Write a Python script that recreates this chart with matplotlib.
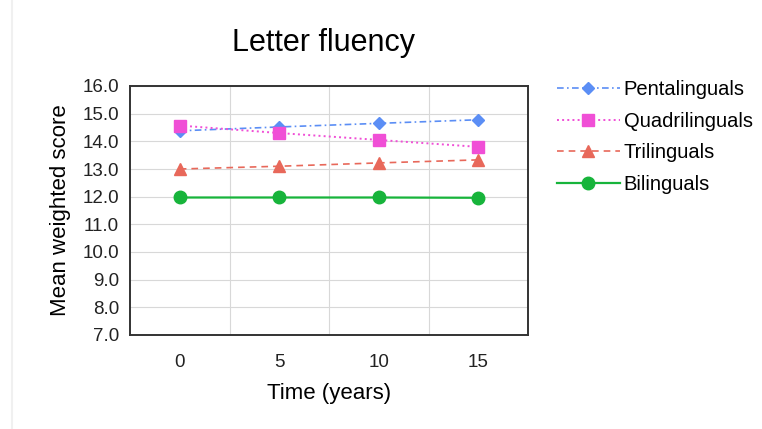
import numpy as np
import matplotlib.pyplot as plt
from matplotlib.lines import Line2D

# ── Data ────────────────────────────────────────────────────
years = ["0", "5", "10", "15"]
penta = [14.38, 14.52, 14.65, 14.78]
quadri = [14.57, 14.30, 14.05, 13.80]
tri = [13.00, 13.10, 13.22, 13.33]
bi = [11.97, 11.97, 11.97, 11.96]

plt.rcParams['font.family'] = ['Liberation Sans', 'DejaVu Sans']

fig = plt.figure(figsize=(7.62, 4.29), dpi=100)
ax = fig.add_axes([130/762, 1 - 335/429, 398/762, 249/429])

x = np.arange(len(years))
ax.plot(x, penta, color='#5b8ef5', linestyle=(0, (4, 2, 1, 2)), lw=1.2,
        marker='D', markersize=6, label='Pentalinguals')
ax.plot(x, quadri, color='#f04fd6', linestyle=':', lw=1.4,
        marker='s', markersize=9, label='Quadrilinguals')
ax.plot(x, tri, color='#e8685a', linestyle=(0, (4, 3)), lw=1.2,
        marker='^', markersize=9, label='Trilinguals')
ax.plot(x, bi, color='#17b43b', linestyle='-', lw=1.6,
        marker='o', markersize=9, label='Bilinguals')

ax.set_xlim(-0.5, 3.5)
ax.set_ylim(7, 16)
ax.set_yticks(np.arange(7, 16.1, 1))
ax.set_yticklabels([f"{v:.1f}" for v in np.arange(7, 16.1, 1)])
ax.set_xticks(x)
ax.set_xticklabels(years)
ax.set_xticks(np.arange(0.5, 3.0, 1), minor=True)
ax.grid(True, which='minor', axis='x', color='#d8d8d8', lw=0.8)
ax.grid(True, which='major', axis='y', color='#d8d8d8', lw=0.8)
ax.tick_params(which='both', length=0)
ax.tick_params(axis='both', labelsize=13.5, colors='#222222')
ax.tick_params(axis='x', pad=14)
ax.tick_params(axis='y', pad=8)
ax.set_axisbelow(True)
for s in ax.spines.values():
    s.set_color('#333333')
    s.set_linewidth(1.4)

ax.set_xlabel("Time (years)", fontsize=16, labelpad=8)
ax.set_ylabel("Mean weighted score", fontsize=16, labelpad=8)
fig.text(324/762, 1 - 43/429, "Letter fluency", fontsize=22, ha='center', va='center')

fig.legend(loc='upper left', bbox_to_anchor=(539/762, 1 - 62/429), frameon=False,
           fontsize=14.5, handlelength=3.1, labelspacing=0.63, handletextpad=0.2)

# faint frame edge of the original screenshot
fig.add_artist(Line2D([12/762, 12/762], [0, 1], color='#f0f0f0', lw=1.5))

fig.savefig("out.png", dpi=100)
